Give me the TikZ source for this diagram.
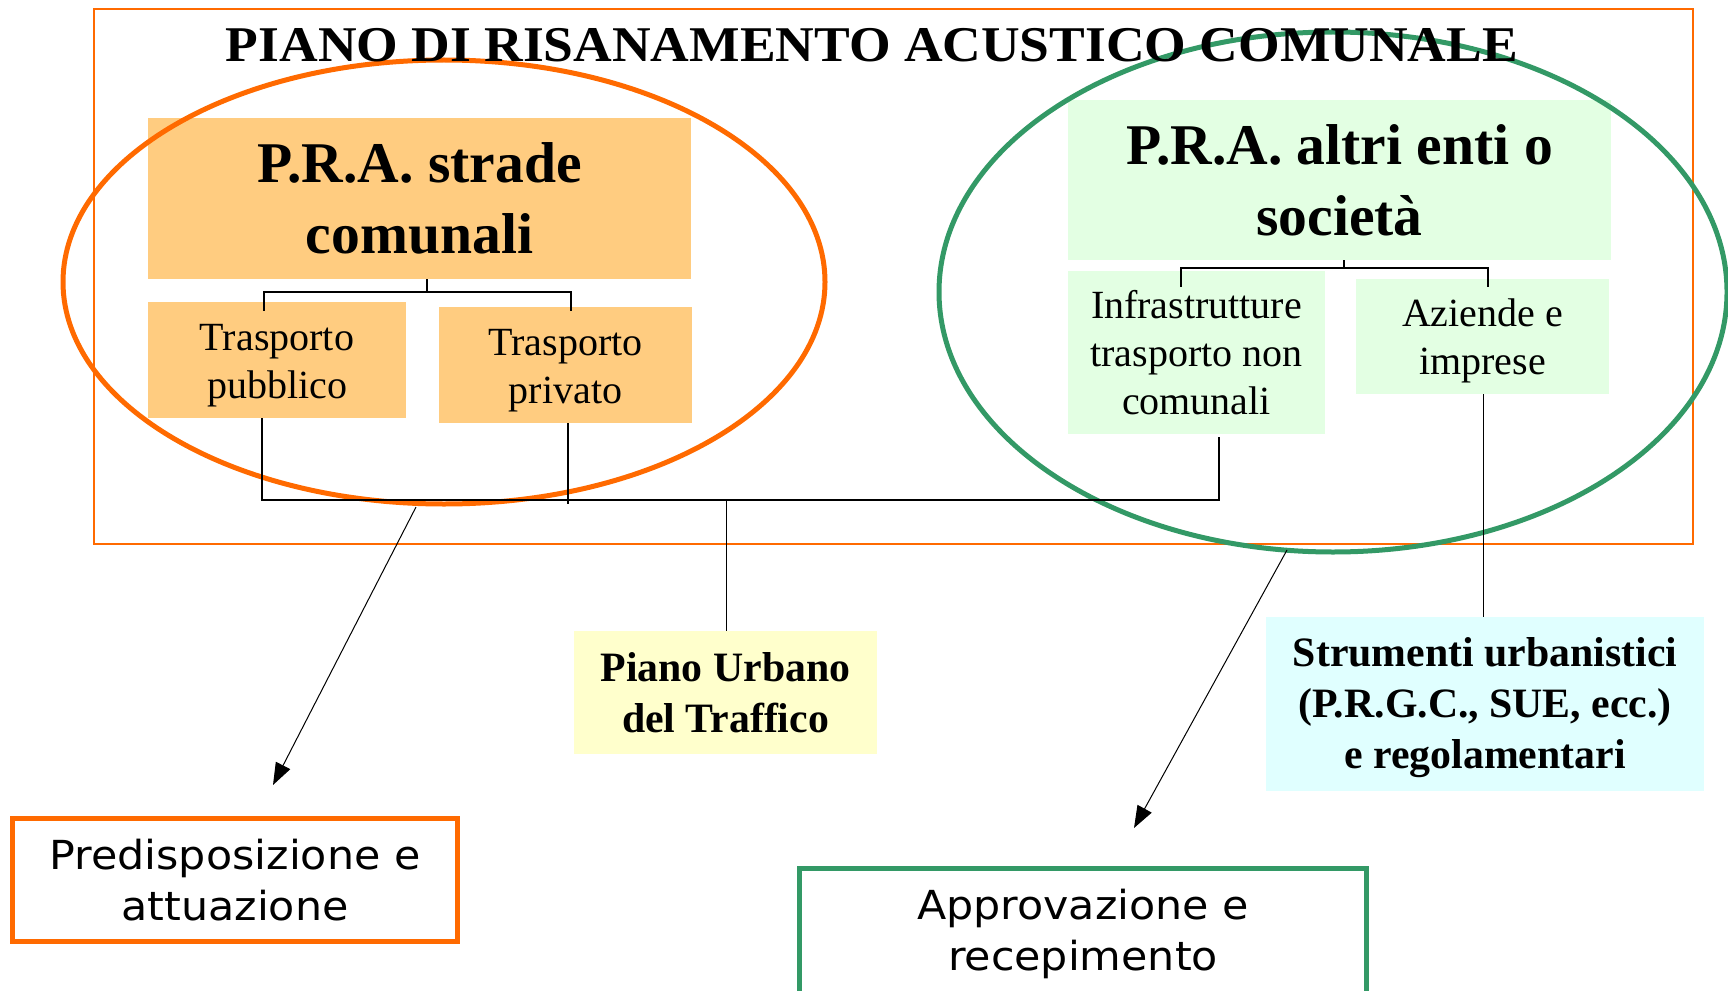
\documentclass[tikz,border=0pt]{standalone}
\usepackage{fontspec}
\setmainfont{Liberation Serif}
\newfontfamily\sansfont[FakeStretch=1.07]{DejaVu Sans}
\newfontfamily\titlefont[FakeStretch=1.07]{Liberation Serif}
\usetikzlibrary{arrows.meta}
\definecolor{orangeline}{HTML}{FF6A00}
\definecolor{greenline}{HTML}{339966}
\definecolor{orangefill}{HTML}{FFCC80}
\definecolor{greenfill}{HTML}{E3FFE3}
\definecolor{yellowfill}{HTML}{FFFFCC}
\definecolor{cyanfill}{HTML}{E0FFFF}
\begin{document}
\begin{tikzpicture}[x=0.5pt,y=-0.5pt,
  fbox/.style={rectangle, inner sep=0pt, align=center, anchor=center},
  txt/.style={inner sep=0pt, align=center, anchor=center},
  bigt/.style={font=\fontsize{28.8}{35.5}\selectfont\bfseries},
  smallt/.style={font=\fontsize{20}{24}\selectfont},
  midt/.style={font=\fontsize{20.9}{25.5}\selectfont\bfseries},
  sanst/.style={font=\sansfont\fontsize{20}{25.5}\selectfont},
  conn/.style={draw=black, line width=0.7pt},
  thinconn/.style={draw=black, line width=0.5pt},
  arr/.style={draw=black, line width=0.5pt, -{Triangle[length=11pt,width=8pt]}},
  ring/.style={line width=2.5pt},
]
\useasboundingbox (0,0) rectangle (1728,990);
\clip (0,0) rectangle (1728,990);
% outer frame
\draw[orangeline, line width=1pt] (94,9) rectangle (1693,544);
% boxes
\node[fbox, fill=orangefill, minimum width=271.5pt, minimum height=80.5pt, bigt] (strade) at (419.5,198.5) {P.R.A. strade\\comunali};
\node[fbox, fill=orangefill, minimum width=129pt, minimum height=58pt] (pubblico) at (277,360) {};
\node[txt, smallt] (pubblicotxt) at ([yshift=-3pt]pubblico.center) {Trasporto\\pubblico};
\node[fbox, fill=orangefill, minimum width=126.5pt, minimum height=58pt] (privato) at (565.5,365) {};
\node[txt, smallt] (privatotxt) at ([yshift=-3pt]privato.center) {Trasporto\\privato};
\node[fbox, fill=greenfill, minimum width=271.5pt, minimum height=80pt, bigt] (altri) at (1339.5,180) {P.R.A. altri enti o\\società};
\node[fbox, fill=greenfill, minimum width=128.5pt, minimum height=81.5pt, smallt] (infra) at (1196.5,352.5) {Infrastrutture\\trasporto non\\comunali};
\node[fbox, fill=greenfill, minimum width=126.5pt, minimum height=57.5pt] (aziende) at (1482.5,336.5) {};
\node[txt, smallt] (aziendetxt) at ([yshift=-2.2pt]aziende.center) {Aziende e\\imprese};
\node[fbox, fill=yellowfill, minimum width=151.5pt, minimum height=61.5pt, midt] (put) at (725.5,692.5) {Piano Urbano\\del Traffico};
\node[fbox, fill=cyanfill, minimum width=219pt, minimum height=87pt] (strum) at (1485,704) {};
\node[txt, midt] (strumtxt) at ([yshift=-2pt]strum.center) {Strumenti urbanistici\\(P.R.G.C., SUE, ecc.)\\e regolamentari};
\node[fbox, draw=orangeline, line width=2.5pt, minimum width=222.5pt, minimum height=61.5pt, sanst] (pred) at (235,880) {Predisposizione e\\attuazione};
\node[fbox, draw=greenline, line width=2.5pt, minimum width=283.5pt, minimum height=66pt, sanst] (appr) at (1083,934) {Approvazione e\\recepimento};
% ellipses
\draw[orangeline, ring] (444,282) ellipse [x radius=381, y radius=222];
\draw[greenline, ring] (1333,292) ellipse [x radius=394, y radius=260];
% left tree
\coordinate (sbus) at (427,292);
\coordinate (sbl) at (264,292);
\coordinate (sbr) at (571,292);
\draw[conn] (strade.south -| sbus) -- (sbus);
\draw[conn] ([yshift=-4.5pt]sbl |- pubblico.north) -- (sbl) -- (sbr) -- ([yshift=-2pt]sbr |- privato.north);
% right tree
\coordinate (rbus) at (1344,268);
\coordinate (rbl) at (1181,268);
\coordinate (rbr) at (1488,268);
\draw[conn] (altri.south -| rbus) -- (rbus);
\draw[conn] ([yshift=-8pt]rbl |- infra.north) -- (rbl) -- (rbr) -- ([yshift=-4pt]rbr |- aziende.north);
% bus
\coordinate (busL) at (262,500);
\coordinate (busR) at (1219,500);
\coordinate (pv) at (568,504);
\coordinate (putj) at (726,500);
\coordinate (azj) at (1483,400);
\draw[conn] (pubblico.south -| busL) -- (busL) -- (busR) -- ([yshift=-1.5pt]infra.south -| busR);
\draw[conn] (privato.south -| pv) -- (pv);
\draw[thinconn] (putj) -- (put.north -| putj);
\draw[thinconn] (aziende.south -| azj) -- (strum.north -| azj);
% arrows
\coordinate (a1s) at (416,507);
\coordinate (a1e) at (273,785);
\coordinate (a2s) at (1287,550);
\coordinate (a2e) at (1134,828);
\draw[arr] (a1s) -- (a1e);
\draw[arr] (a2s) -- (a2e);
% title
\node[font=\titlefont\fontsize{25}{30}\selectfont\bfseries, anchor=base, inner sep=0pt] (title) at (872,62) {PIANO DI RISANAMENTO ACUSTICO COMUNALE};
\end{tikzpicture}
\end{document}
